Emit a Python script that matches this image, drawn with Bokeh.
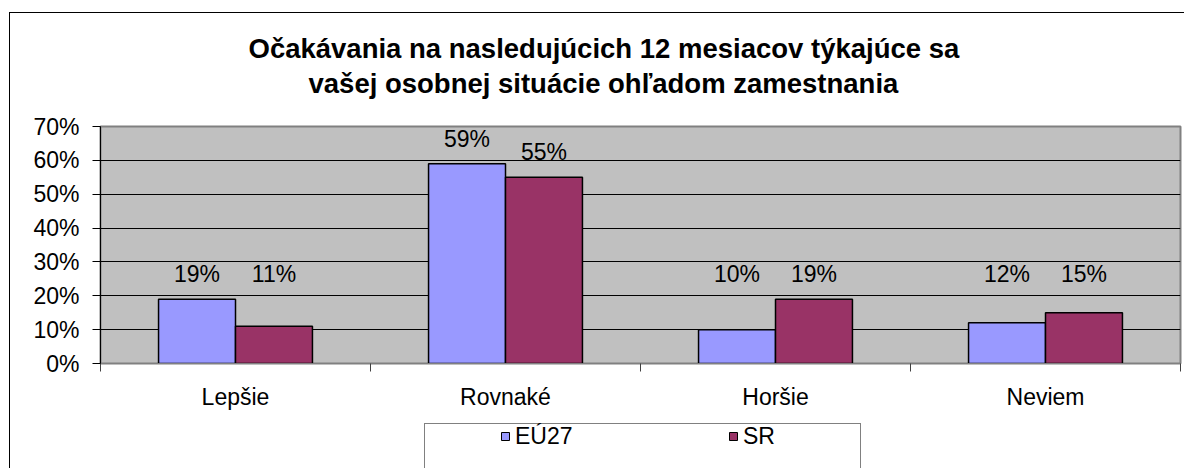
from bokeh.plotting import figure
from bokeh.layouts import column
from bokeh.models import (ColumnDataSource, FixedTicker, PrintfTickFormatter, Range1d,
                          LabelSet, Title, Legend, LegendItem)
from bokeh.core.properties import value
from bokeh.embed import file_html
from bokeh.resources import INLINE

# ---- data ----
categories = ["Lepšie", "Rovnaké", "Horšie", "Neviem"]
eu27 = [19, 59, 10, 12]
sr = [11, 55, 19, 15]
series_names = ["EÚ27", "SR"]
title_lines = ["Očakávania na nasledujúcich 12 mesiacov týkajúce sa",
               "vašej osobnej situácie ohľadom zamestnania"]
y_ticks = [0, 10, 20, 30, 40, 50, 60, 70]

FONT = "Liberation Sans"
FS = "23px"
EU_COLOR = "#9999FF"
SR_COLOR = "#993366"
BAR_W = 0.285
OFF = 0.1425
LABEL_FLOOR = 19

# chart border and legend box drawn as CSS backgrounds (does not affect layout)
bg = ", ".join([
    "linear-gradient(#000,#000) 9px 12px / 1px 470px no-repeat",
    "linear-gradient(#000,#000) 9px 12px / 1180px 1px no-repeat",
    "linear-gradient(#808080,#808080) 424px 423px / 437px 1px no-repeat",
    "linear-gradient(#808080,#808080) 424px 423px / 1px 60px no-repeat",
    "linear-gradient(#808080,#808080) 860px 423px / 1px 60px no-repeat",
])

W = 1184
p = figure(width=W, height=418, output_backend="svg", toolbar_location=None,
           x_range=Range1d(0, len(categories)), y_range=Range1d(0, 70),
           min_border_left=100, min_border_right=4, min_border_top=126, min_border_bottom=55)
p.background_fill_color = "#C0C0C0"
p.border_fill_alpha = 0
p.outline_line_color = "#808080"
p.outline_line_width = 2

centers = [i + 0.5 for i in range(len(categories))]
src_eu = ColumnDataSource(dict(x=[c - OFF for c in centers], top=eu27,
                               ly=[max(v, LABEL_FLOOR) for v in eu27],
                               txt=[f"{v}%" for v in eu27]))
src_sr = ColumnDataSource(dict(x=[c + OFF for c in centers], top=sr,
                               ly=[max(v, LABEL_FLOOR) for v in sr],
                               txt=[f"{v}%" for v in sr]))

p.vbar(x="x", top="top", bottom=0, width=BAR_W, source=src_eu,
       fill_color=EU_COLOR, line_color="black", line_width=1.5)
p.vbar(x="x", top="top", bottom=0, width=BAR_W, source=src_sr,
       fill_color=SR_COLOR, line_color="black", line_width=1.5)

for s in (src_eu, src_sr):
    p.add_layout(LabelSet(x="x", y="ly", text="txt", source=s, y_offset=17,
                          text_align="center", text_baseline="alphabetic",
                          text_font=value(FONT), text_font_size=FS, text_color="black"))

# axes
p.yaxis.ticker = FixedTicker(ticks=y_ticks)
p.yaxis.formatter = PrintfTickFormatter(format="%d%%")
p.yaxis.major_label_text_font = FONT
p.yaxis.major_label_text_font_size = FS
p.yaxis.major_label_text_color = "black"
p.yaxis.major_tick_out = 8
p.yaxis.major_tick_in = 0
p.yaxis.minor_tick_line_color = None
p.yaxis.axis_line_color = "black"
p.yaxis.major_tick_line_color = "black"
p.yaxis.major_label_standoff = 13

p.xaxis.ticker = FixedTicker(ticks=centers, minor_ticks=list(range(len(categories) + 1)))
p.xaxis.major_label_overrides = {c: n for c, n in zip(centers, categories)}
p.xaxis.major_tick_line_color = None
p.xaxis.minor_tick_out = 8
p.xaxis.minor_tick_in = 0
p.xaxis.minor_tick_line_color = "#404040"
p.xaxis.axis_line_color = "#808080"
p.xaxis.major_label_text_font = FONT
p.xaxis.major_label_text_font_size = FS
p.xaxis.major_label_text_color = "black"
p.xaxis.major_label_standoff = 12

p.xgrid.grid_line_color = None
p.ygrid.ticker = FixedTicker(ticks=y_ticks[1:-1])
p.ygrid.grid_line_color = "black"
p.ygrid.grid_line_width = 1

# title: two lines, later-added sits farther from the frame
for line, off, so in [(title_lines[1], 208, 56), (title_lines[0], 148, -52)]:
    p.add_layout(Title(text=line, align="left", offset=off, standoff=so,
                       text_font=FONT, text_font_style="bold", text_font_size="27.5px",
                       text_color="black"), "above")

# legend strip (second figure, so the legend is not clipped by the chart frame)
q = figure(width=W, height=50, output_backend="svg", toolbar_location=None,
           x_range=Range1d(0, 1), y_range=Range1d(0, 1),
           x_axis_location=None, y_axis_location=None,
           min_border_left=0, min_border_right=0, min_border_top=0, min_border_bottom=0)
q.grid.visible = False
q.outline_line_color = None
q.background_fill_alpha = 0
q.border_fill_alpha = 0
# legend proxies: the series values lie outside this strip's range, so only the legend shows them
m_eu = q.scatter(x=centers, y=eu27, marker="square", fill_color=EU_COLOR, line_color="black", line_width=1)
m_sr = q.scatter(x=centers, y=sr, marker="square", fill_color=SR_COLOR, line_color="black", line_width=1)
legend = Legend(items=[LegendItem(label=series_names[0], renderers=[m_eu]),
                       LegendItem(label=series_names[1], renderers=[m_sr])],
                orientation="horizontal", location=(395, 18.5),
                padding=0, margin=0, spacing=58, label_width=150,
                glyph_width=20, glyph_height=24, label_standoff=-2,
                label_text_font=FONT, label_text_font_size=FS, label_text_color="black",
                border_line_color=None, background_fill_alpha=0)
q.add_layout(legend, "center")

layout = column(p, q, spacing=0, styles={"background": bg})
open("out.html", "w").write(file_html(layout, INLINE))
